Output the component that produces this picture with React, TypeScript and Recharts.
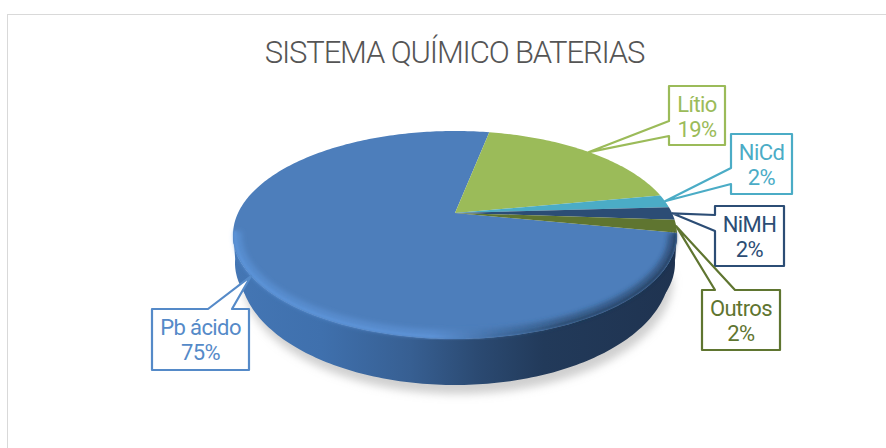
import { PieChart, Pie } from 'recharts';

const categories = ['Pb ácido', 'Lítio', 'NiCd', 'NiMH', 'Outros'];
const shares = [75, 19, 2, 2, 2];
const topColors = ['#4d7ebb', '#9bbb59', '#4bacc6', '#2c4d75', '#5f7530'];
const textColors = ['#558ac8', '#9bbb59', '#4bacc6', '#2c4d75', '#5f7530'];

const tableData = categories.map((name, i) => ({ name, value: shares[i], fill: topColors[i] }));

// callout boxes, placed by hand like the office chart did
const calloutBoxes = [
  { x: 152, y: 309, w: 97, h: 61, side: 'top', base: [208, 232] },
  { x: 669, y: 86, w: 56, h: 59, side: 'left', base: [121, 136] },
  { x: 731, y: 134, w: 61, h: 60, side: 'left', base: [168, 184] },
  { x: 715, y: 206, w: 69, h: 60, side: 'left', base: [215, 231] },
  { x: 702, y: 290, w: 78, h: 60, side: 'top', base: [715, 735] },
];

const CX = 455;
const CY = 235;
const RX = 222;
const RY = 104;
const TILT = 0.2115; // how far the apex sits above the ellipse centre
const BOTTOM = { cy: 270, rx: 215, ry: 115 };
const MIDDLE = { cy: 263, rx: 220, ry: 104 };

type Pt = { x: number; y: number };

// circle angle -> point on the unit ellipse, with perspective
function project(deg: number) {
  const a = (deg * Math.PI) / 180;
  const x = Math.cos(a);
  const y = Math.sin(a);
  const d = 1 + TILT * y;
  return { x: (x * Math.sqrt(1 - TILT * TILT)) / d, y: (y + TILT) / d };
}

function arc(start: number, end: number) {
  const out = [];
  const n = Math.max(2, Math.ceil(Math.abs(end - start)));
  for (let i = 0; i <= n; i++) out.push(project(start + ((end - start) * i) / n));
  return out;
}

const topPt = (p: Pt, inset = 0) => `${CX + (RX - inset) * p.x},${CY - (RY - inset) * p.y}`;
const ringPt = (ring: { cy: number; rx: number; ry: number }) => (p: Pt) =>
  `${CX + ring.rx * p.x},${ring.cy - ring.ry * p.y}`;

function frontArc(props: any) {
  return arc(props.startAngle, props.endAngle).filter((p) => p.y <= 0.05);
}

function TopSlice(props: any) {
  const pts = arc(props.startAngle, props.endAngle).map((p) => topPt(p));
  const d = `M${CX},${CY - RY * TILT} L${pts.join(' L')} Z`;
  const front = frontArc(props);
  return (
    <g>
      <path d={d} fill={props.fill} stroke="none" />
      {front.length > 1 && (
        <g fill="none" stroke="url(#rimStroke)">
          <path
            d={`M${front.map((p) => topPt(p, 5)).join(' L')}`}
            strokeWidth={8}
            strokeOpacity={0.55}
            filter="url(#softWide)"
          />
          <path
            d={`M${front.map((p) => topPt(p, 2)).join(' L')}`}
            strokeWidth={3}
            strokeOpacity={0.7}
            filter="url(#soft)"
          />
        </g>
      )}
    </g>
  );
}

function WallSlice(props: any) {
  const front = frontArc(props);
  if (front.length < 2) return null;
  const back = [...front].reverse();
  const band = (ring: { cy: number; rx: number; ry: number }) =>
    `M${[...front.map((p) => topPt(p)), ...back.map(ringPt(ring))].join(' L')} Z`;
  return (
    <g fill="url(#wallFill)">
      <path d={band(BOTTOM)} />
      <path d={band(MIDDLE)} />
    </g>
  );
}

function ShadowSlice(props: any) {
  const front = frontArc(props);
  if (front.length < 2) return null;
  const d = front.map(ringPt(BOTTOM)).join(' L');
  return (
    <path
      d={`M${d} Z`}
      fill="#a8a8a8"
      fillOpacity={0.55}
      transform="translate(3 9)"
      filter="url(#shadowBlur)"
    />
  );
}

function Callout(props: any) {
  const i = categories.indexOf(props.name);
  const box = calloutBoxes[i];
  const color = textColors[i];
  const tip = project(props.midAngle);
  const tx = CX + RX * tip.x;
  const ty = CY - RY * tip.y;
  const { x, y, w, h, side, base } = box;
  const pts =
    side === 'left'
      ? [[x, y], [x + w, y], [x + w, y + h], [x, y + h], [x, base[1]], [tx, ty], [x, base[0]]]
      : [[x, y], [base[0], y], [tx, ty], [base[1], y], [x + w, y], [x + w, y + h], [x, y + h]];
  return (
    <g>
      <polygon
        points={pts.map((p) => p.join(',')).join(' ')}
        fill="#fff"
        stroke={color}
        strokeWidth={2.2}
        strokeLinejoin="round"
      />
      <text
        x={x + w / 2}
        textAnchor="middle"
        fontFamily="Roboto"
        fontSize={22}
        letterSpacing={-0.6}
        fill={color}
      >
        <tspan x={x + w / 2} y={y + 26}>{props.name}</tspan>
        <tspan x={x + w / 2} y={y + 51}>{`${props.value}%`}</tspan>
      </text>
    </g>
  );
}

const pieProps = {
  data: tableData,
  dataKey: 'value',
  nameKey: 'name',
  cx: CX,
  cy: CY,
  outerRadius: RX,
  startAngle: -11,
  endAngle: -371,
  stroke: 'none',
  isAnimationActive: false,
};

export default function App() {
  return (
    <div
      style={{
        position: 'fixed',
        left: 0,
        top: 0,
        width: 886,
        height: 448,
        overflow: 'hidden',
        background: '#fff',
      }}
    >
      <div
        style={{
          position: 'absolute',
          left: 7,
          top: 14,
          width: 1000,
          height: 600,
          border: '1.5px solid #d9d9d9',
        }}
      />
      <div
        style={{
          position: 'absolute',
          left: 0,
          width: 909,
          top: 33,
          textAlign: 'center',
          fontFamily: 'Roboto',
          fontSize: 31,
          fontWeight: 300,
          letterSpacing: -1.15,
          lineHeight: '40px',
          color: '#555555',
        }}
      >
        SISTEMA QUÍMICO BATERIAS
      </div>
      <div style={{ position: 'absolute', left: 0, top: 0 }}>
        <PieChart width={886} height={448} margin={{ top: 0, right: 0, bottom: 0, left: 0 }}>
          <defs>
            <linearGradient id="wallFill" gradientUnits="userSpaceOnUse" x1={233} y1={0} x2={677} y2={0}>
              <stop offset="0%" stopColor="#4476b4" />
              <stop offset="20%" stopColor="#3f70ad" />
              <stop offset="40%" stopColor="#375f92" />
              <stop offset="55%" stopColor="#2b4a72" />
              <stop offset="70%" stopColor="#223a5a" />
              <stop offset="100%" stopColor="#1f3350" />
            </linearGradient>
            <linearGradient id="rimStroke" gradientUnits="userSpaceOnUse" x1={233} y1={0} x2={677} y2={0}>
              <stop offset="0%" stopColor="#5f99e0" />
              <stop offset="45%" stopColor="#6298de" />
              <stop offset="60%" stopColor="#3c6698" />
              <stop offset="75%" stopColor="#24405f" />
              <stop offset="100%" stopColor="#1f3553" />
            </linearGradient>
            <filter id="soft" x="-5%" y="-5%" width="110%" height="110%">
              <feGaussianBlur stdDeviation="1" />
            </filter>
            <filter id="softWide" x="-5%" y="-5%" width="110%" height="110%">
              <feGaussianBlur stdDeviation="2.5" />
            </filter>
            <filter id="shadowBlur" x="-10%" y="-10%" width="120%" height="130%">
              <feGaussianBlur stdDeviation="4" />
            </filter>
          </defs>
          <Pie {...pieProps} shape={ShadowSlice} />
          <Pie {...pieProps} shape={WallSlice} />
          <Pie {...pieProps} shape={TopSlice} label={Callout} labelLine={false} />
        </PieChart>
      </div>
    </div>
  );
}
